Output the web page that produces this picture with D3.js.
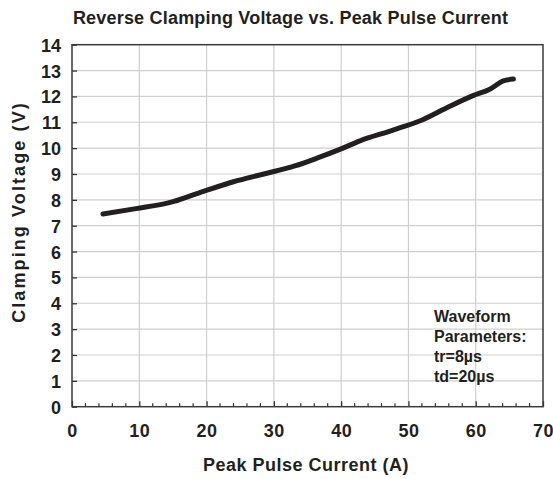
<!DOCTYPE html>
<html>
<head>
<meta charset="utf-8">
<script src="https://cdn.jsdelivr.net/npm/d3@7"></script>
<style>
  html, body { margin: 0; padding: 0; background: #ffffff; }
  svg { display: block; font-family: "Liberation Sans", Arial, Helvetica, sans-serif; font-weight: bold; }
</style>
</head>
<body>
<div id="chart"></div>
<script>
// ---- data ----
const currentA = [4.6, 9.5, 14.3, 19.0, 24.0, 28.5, 33.1, 36.5, 39.8, 42.8, 47.5, 52.2, 56.0, 59.6, 62.1, 64.1, 65.6];
const clampV   = [7.45, 7.66, 7.88, 8.28, 8.70, 9.00, 9.31, 9.62, 9.95, 10.28, 10.68, 11.11, 11.60, 12.03, 12.28, 12.60, 12.67];
const xTicks = [0, 10, 20, 30, 40, 50, 60, 70];
const xMinorTicks = d3.range(0, 71, 2);
const yTicks = [0, 1, 2, 3, 4, 5, 6, 7, 8, 9, 10, 11, 12, 13, 14];
const titleText = "Reverse Clamping Voltage vs. Peak Pulse Current";
const xLabelText = "Peak Pulse Current (A)";
const yLabelText = "Clamping Voltage (V)";
const noteLines = ["Waveform", "Parameters:", "tr=8\u00b5s", "td=20\u00b5s"];

// ---- layout ----
const W = 553, H = 479;
const m = { left: 72, top: 44.7, right: 543, bottom: 406.7 };

const svg = d3.select("#chart").append("svg").attr("width", W).attr("height", H);

const x = d3.scaleLinear().domain([0, 70]).range([m.left, m.right]);
const y = d3.scaleLinear().domain([0, 14]).range([m.bottom, m.top]);

// gridlines
svg.append("g").selectAll("line.v").data(xTicks.slice(1, -1)).join("line")
  .attr("x1", d => x(d)).attr("x2", d => x(d))
  .attr("y1", m.top).attr("y2", m.bottom)
  .attr("stroke", "#cfcfcf").attr("stroke-width", 1.2);
svg.append("g").selectAll("line.h").data(yTicks.slice(1, -1)).join("line")
  .attr("x1", m.left).attr("x2", m.right)
  .attr("y1", d => y(d)).attr("y2", d => y(d))
  .attr("stroke", "#cfcfcf").attr("stroke-width", 1.2);

// minor x ticks (inward)
svg.append("g").selectAll("line").data(xMinorTicks.filter(d => d % 10 !== 0)).join("line")
  .attr("x1", d => x(d)).attr("x2", d => x(d))
  .attr("y1", m.bottom).attr("y2", m.bottom - 3.5)
  .attr("stroke", "#333").attr("stroke-width", 1.2);

// axes using d3 axis generators with inward ticks
const xAxis = d3.axisBottom(x).tickValues(xTicks).tickSize(-5.5).tickPadding(12).tickFormat(d3.format("d"));
const gx = svg.append("g").attr("transform", `translate(0,${m.bottom})`).call(xAxis);
gx.select(".domain").remove();
gx.selectAll(".tick line").attr("stroke", "#333").attr("stroke-width", 1.3);
gx.selectAll(".tick text").attr("font-size", 18).attr("font-weight", "bold")
  .attr("font-family", "Liberation Sans, Arial, sans-serif").attr("fill", "#231f20")
  .attr("dy", "0").attr("y", 30).attr("letter-spacing", 0.5);

const yAxis = d3.axisLeft(y).tickValues(yTicks).tickSize(-5).tickPadding(12).tickFormat(d3.format("d"));
const gy = svg.append("g").attr("transform", `translate(${m.left},0)`).call(yAxis);
gy.select(".domain").remove();
gy.selectAll(".tick line").attr("stroke", "#333").attr("stroke-width", 1.3);
gy.selectAll(".tick text").attr("font-size", 18).attr("font-weight", "bold")
  .attr("font-family", "Liberation Sans, Arial, sans-serif").attr("fill", "#231f20")
  .attr("x", -11).attr("dy", "0.36em");

// frame
svg.append("rect")
  .attr("x", m.left).attr("y", m.top)
  .attr("width", m.right - m.left).attr("height", m.bottom - m.top)
  .attr("fill", "none").attr("stroke", "#3a3a3a").attr("stroke-width", 1.5);

// data line
const line = d3.line().x(d => x(d[0])).y(d => y(d[1])).curve(d3.curveMonotoneX);
svg.append("path")
  .datum(currentA.map((c, i) => [c, clampV[i]]))
  .attr("d", line)
  .attr("fill", "none").attr("stroke", "#231f20").attr("stroke-width", 5)
  .attr("stroke-linecap", "round").attr("stroke-linejoin", "round");

// title
svg.append("text").attr("x", 290.5).attr("y", 24).attr("text-anchor", "middle")
  .attr("font-size", 18).attr("fill", "#231f20").attr("letter-spacing", 0.2).text(titleText);

// x label
svg.append("text").attr("x", 306).attr("y", 471).attr("text-anchor", "middle")
  .attr("font-size", 18).attr("fill", "#231f20").attr("letter-spacing", 0.5).text(xLabelText);

// y label
svg.append("text").attr("transform", "translate(25,212) rotate(-90)").attr("text-anchor", "middle")
  .attr("font-size", 18).attr("fill", "#231f20").attr("letter-spacing", 2.1).text(yLabelText);

// annotation
svg.append("g").selectAll("text").data(noteLines).join("text")
  .attr("x", 434).attr("y", (d, i) => 321.5 + i * 20)
  .attr("font-size", 16).attr("fill", "#231f20").text(d => d);
</script>
</body>
</html>
